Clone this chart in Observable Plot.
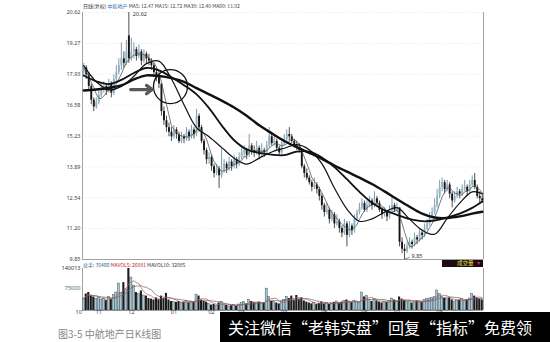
<!DOCTYPE html>
<html><head><meta charset="utf-8">
<script src="https://cdn.jsdelivr.net/npm/d3@7"></script>
<script src="https://cdn.jsdelivr.net/npm/@observablehq/plot@0.6"></script>
<style>
body{margin:0;background:#fff;}
#wrap{position:relative;width:550px;height:342px;overflow:hidden;background:#fff;font-family:"Noto Sans CJK SC","Noto Sans",sans-serif;}
#wrap svg{position:absolute;left:0;}
.t{position:absolute;white-space:nowrap;font-size:5px;line-height:1;color:#333;}
</style></head><body><div id="wrap"></div>
<script>
// ---- daily bars ----
const open=[18.0,18.2,17.9,17.4,16.8,16.5,16.7,17.0,17.3,17.4,
17.2,17.5,17.1,17.7,18.0,18.3,18.6,18.4,19.6,18.6,
18.9,19.0,18.7,18.9,18.5,18.8,18.6,18.5,18.3,18.0,
17.8,17.5,16.3,15.9,15.6,15.4,15.2,15.5,15.3,15.0,
15.2,15.1,15.4,15.2,15.5,15.3,16.1,15.6,15.0,14.6,
14.2,14.3,13.9,13.6,13.8,13.5,13.7,14.0,13.8,14.1,
13.9,14.2,14.0,14.3,14.5,14.6,14.4,14.8,14.6,14.5,
14.7,14.4,14.6,14.5,14.8,15.2,14.9,15.0,14.7,14.5,
14.9,15.1,15.3,15.2,15.0,14.8,14.7,14.6,13.9,13.6,
13.4,13.2,13.0,13.1,12.9,12.6,12.2,11.9,12.0,11.6,
11.8,11.4,11.5,11.2,11.0,11.4,10.9,11.3,11.1,11.6,
11.9,12.1,12.3,12.0,12.2,12.4,12.2,12.5,12.3,12.0,
11.8,11.9,11.7,12.0,12.2,12.0,12.1,10.6,10.3,10.2,
10.4,10.6,10.5,10.8,10.7,11.0,10.9,11.2,11.4,11.7,
11.9,12.2,12.6,13.0,13.2,12.9,13.1,12.7,12.4,12.6,
12.8,12.7,12.9,13.0,12.8,13.1,13.3,13.0,12.6,12.5];
const high=[18.4,18.3,18.0,17.5,16.9,16.9,17.2,17.5,17.6,17.5,
17.7,17.6,17.9,18.3,18.6,19.3,18.9,19.4,20.62,19.5,
19.3,19.1,19.2,19.0,19.0,18.9,18.8,18.6,18.4,18.2,
17.9,17.5,16.5,16.1,15.8,15.6,15.7,15.6,15.4,15.4,
15.3,15.6,15.5,15.7,15.6,16.4,16.2,15.7,15.1,14.7,
14.5,14.4,14.0,14.0,13.9,14.7,14.2,14.1,14.3,14.2,
14.4,14.3,14.5,14.7,14.8,14.7,15.3,14.9,14.8,15.0,
14.8,14.9,14.7,15.0,15.6,15.3,15.2,15.1,14.8,15.0,
15.3,15.5,15.6,15.3,15.1,15.0,14.9,14.6,14.0,13.8,
13.5,13.3,13.4,13.2,13.0,12.7,12.3,12.3,12.1,12.0,
11.9,11.8,11.6,11.3,11.6,11.5,11.5,11.4,11.8,12.0,
12.3,12.5,12.4,12.4,12.6,12.5,12.8,12.6,12.4,12.1,
12.1,12.0,12.2,12.6,12.3,12.3,12.1,10.8,10.5,10.6,
10.8,10.7,11.0,10.9,11.2,11.1,11.4,11.6,11.9,12.1,
12.5,12.9,13.3,13.4,13.3,13.3,13.2,12.8,12.8,13.0,
12.9,13.1,13.3,13.1,13.3,13.5,13.6,13.1,12.8,12.7];
const low=[17.8,17.7,17.2,16.6,16.3,16.4,16.6,16.9,17.1,17.0,
17.1,16.9,17.0,17.6,17.9,18.1,18.2,18.3,18.4,18.5,
18.6,18.5,18.6,18.3,18.4,18.4,18.3,18.1,17.8,17.6,
17.3,16.1,15.7,15.4,15.2,15.0,15.1,15.1,14.9,14.9,
14.9,15.0,15.0,15.1,15.1,15.2,15.4,14.9,14.4,14.0,
14.0,13.7,13.4,13.5,12.95,13.4,13.6,13.6,13.7,13.7,
13.8,13.8,13.9,14.2,14.3,14.2,14.3,14.4,14.3,14.4,
14.2,14.3,14.3,14.4,14.7,14.8,14.8,14.6,14.4,14.4,
14.8,15.0,15.0,14.9,14.7,14.6,14.5,13.8,13.4,13.3,
13.1,12.8,12.9,12.7,12.4,12.0,11.7,11.8,11.4,11.5,
11.2,11.3,11.0,10.8,10.9,10.4,10.8,10.9,11.0,11.5,
11.8,12.0,11.9,11.9,12.1,12.0,12.1,12.2,11.9,11.6,
11.7,11.5,11.6,11.9,11.9,11.9,10.4,10.1,9.85,10.1,
10.3,10.3,10.4,10.5,10.6,10.7,10.8,11.1,11.3,11.6,
11.8,12.1,12.5,12.8,12.7,12.8,12.5,12.1,12.3,12.5,
12.5,12.6,12.8,12.6,12.7,13.0,12.9,12.5,12.3,12.3];
const close=[18.2,17.9,17.4,16.8,16.5,16.7,17.0,17.3,17.4,17.2,
17.5,17.1,17.7,18.0,18.3,18.6,18.4,18.9,18.6,18.9,
19.0,18.7,18.9,18.5,18.8,18.6,18.5,18.3,18.0,17.8,
17.5,16.3,15.9,15.6,15.4,15.2,15.5,15.3,15.0,15.2,
15.1,15.4,15.2,15.5,15.3,16.1,15.6,15.0,14.6,14.2,
14.3,13.9,13.6,13.8,13.5,13.7,14.0,13.8,14.1,13.9,
14.2,14.0,14.3,14.5,14.6,14.4,14.8,14.6,14.5,14.7,
14.4,14.6,14.5,14.8,15.2,14.9,15.0,14.7,14.5,14.9,
15.1,15.3,15.2,15.0,14.8,14.7,14.6,13.9,13.6,13.4,
13.2,13.0,13.1,12.9,12.6,12.2,11.9,12.0,11.6,11.8,
11.4,11.5,11.2,11.0,11.4,10.9,11.3,11.1,11.6,11.9,
12.1,12.3,12.0,12.2,12.4,12.2,12.5,12.3,12.0,11.8,
11.9,11.7,12.0,12.2,12.0,12.1,10.6,10.3,10.2,10.4,
10.6,10.5,10.8,10.7,11.0,10.9,11.2,11.4,11.7,11.9,
12.2,12.6,13.0,13.2,12.9,13.1,12.7,12.4,12.6,12.8,
12.7,12.9,13.0,12.8,13.1,13.3,13.0,12.6,12.5,12.4];
const volume=[40000,55000,60000,48000,45000,38000,42000,35000,40000,33000,
45000,38000,52000,60000,90000,58000,93000,70000,140013,110000,
83000,60000,55000,65000,50000,48000,40000,38000,35000,42000,
36000,48000,40000,57000,35000,30000,28000,27000,30000,25000,
28000,32000,26000,30000,28000,53000,48000,35000,30000,28000,
22000,18000,20000,15000,25000,28000,20000,17000,14000,16000,
18000,15000,20000,25000,28000,22000,35000,30000,26000,24000,
28000,22000,26000,73000,45000,30000,28000,25000,22000,30000,
35000,45000,40000,48000,35000,50000,38000,42000,32000,28000,
25000,22000,25000,20000,24000,28000,22000,26000,20000,24000,
27000,30000,25000,28000,32000,35000,30000,27000,33000,29000,
25000,60000,45000,48000,35000,30000,38000,32000,28000,25000,
30000,27000,32000,40000,35000,30000,45000,38000,33000,28000,
30000,25000,27000,32000,30000,28000,35000,38000,40000,42000,
45000,67000,55000,45000,40000,38000,42000,35000,30000,33000,
35000,38000,32000,36000,40000,55000,48000,42000,38000,35400];

// ---- moving averages (every 5th bar) ----
const maIdx=[0,5,10,15,20,25,30,35,40,45,50,55,60,65,70,75,80,85,90,95,100,105,110,115,120,125,130,135,140,145,150,155,159];
const ma15=[18.30,17.60,17.25,17.40,17.84,18.39,18.50,17.72,16.60,15.60,15.20,14.74,14.27,14.01,14.27,14.54,14.70,14.86,14.64,14.03,12.97,12.05,11.52,11.62,11.91,12.11,11.61,11.13,10.95,11.64,12.31,12.80,12.72];
const ma30=[17.87,17.62,17.50,17.68,17.98,18.20,18.10,17.80,17.45,17.05,16.45,15.70,15.05,14.65,14.50,14.42,14.40,14.55,14.55,14.30,13.88,13.35,12.80,12.32,12.00,11.80,11.62,11.52,11.55,11.68,11.85,12.10,12.38];
const ma60=[17.22,17.26,17.33,17.44,17.70,17.88,17.85,17.76,17.60,17.32,17.05,16.78,16.48,16.12,15.70,15.35,15.02,14.75,14.50,14.24,13.95,13.68,13.42,13.14,12.82,12.48,12.15,11.85,11.68,11.66,11.73,11.85,11.93];

// ---- axis labels ----
const priceTicks=[20.62,19.27,17.93,16.58,15.23,13.89,12.54,11.20,9.85];
const volTicks=[140013,75000];
const monthLabels=["10","11","12","01","02","03","04","05","06","07","08"];
const monthIdx=[-2,6,19,36,51,63,80,96,112,125,142];

// ---- annotations (in bar index / price units) ----
const circleNote=[{i:34.6,price:17.39}];
const arrowNote=[{i1:18.7,i2:27.4,price:17.26}];

const N=close.length;
const rows=d3.range(N).map(i=>({i,open:open[i],high:high[i],low:low[i],close:close[i],volume:volume[i],up:close[i]>=open[i]}));
const ups=rows.filter(d=>d.up), downs=rows.filter(d=>!d.up);
const maRows=maIdx.map((i,k)=>({i,ma15:ma15[k],ma30:ma30[k],ma60:ma60[k]}));
const peak=rows[d3.maxIndex(high)], trough=rows[d3.minIndex(low)];
const xDom=[-0.5,N-0.5];
const upC="#8fb2c4", dnC="#151515";
const font='"Noto Sans","DejaVu Sans",sans-serif';

const price=Plot.plot({
  width:550,height:262,marginLeft:82,marginRight:67,marginTop:12,marginBottom:3,
  x:{domain:xDom,axis:null},
  y:{domain:[9.85,20.62],axis:null},
  style:{background:"transparent",fontFamily:font,overflow:"visible"},
  marks:[
    Plot.ruleY(priceTicks.slice(0,-1),{stroke:"#d6d6d6",strokeDasharray:"1,2",strokeWidth:0.6}),
    Plot.ruleY([priceTicks[priceTicks.length-1]],{stroke:"#8a8a8a",strokeWidth:0.8}),
    Plot.ruleX([xDom[0]],{stroke:"#8a8a8a",strokeWidth:0.8}),
    Plot.ruleX([xDom[1]],{stroke:"#8a8a8a",strokeWidth:0.8}),
    Plot.text(priceTicks,{frameAnchor:"left",y:d=>d,text:d=>d.toFixed(2),dx:-2,textAnchor:"end",fontSize:5.5,fill:"#444"}),
    Plot.ruleX(ups,{x:"i",y1:"low",y2:"high",stroke:"#5f8293",strokeWidth:0.8}),
    Plot.ruleX(downs,{x:"i",y1:"low",y2:"high",stroke:"#222",strokeWidth:0.8}),
    Plot.ruleX(ups,{x:"i",y1:"open",y2:"close",stroke:upC,strokeWidth:1.9}),
    Plot.ruleX(downs,{x:"i",y1:"open",y2:"close",stroke:dnC,strokeWidth:1.9}),
    Plot.lineY(rows,Plot.windowY({k:5,anchor:"end"},{x:"i",y:"close",stroke:"#555",strokeWidth:0.8})),
    Plot.line(maRows,{x:"i",y:"ma15",curve:"catmull-rom",stroke:"#111",strokeWidth:1.2}),
    Plot.line(maRows,{x:"i",y:"ma30",curve:"catmull-rom",stroke:"#111",strokeWidth:1.8}),
    Plot.line(maRows,{x:"i",y:"ma60",curve:"catmull-rom",stroke:"#111",strokeWidth:2.4}),
    Plot.dot(circleNote,{x:"i",y:"price",r:17,stroke:"#111",strokeWidth:1.3,fill:"none"}),
    Plot.arrow(arrowNote,{x1:"i1",x2:"i2",y1:"price",y2:"price",stroke:"#5a5a5a",strokeWidth:3.2,headLength:7,headAngle:70}),
    Plot.text([peak],{x:"i",y:"high",text:d=>d.high.toFixed(2),dx:4,dy:2,textAnchor:"start",fontSize:5.5,fill:"#333"}),
    Plot.link([trough],{x1:"i",y1:"low",x2:d=>d.i+2,y2:d=>d.low+0.1,stroke:"#333",strokeWidth:0.6}),
    Plot.text([trough],{x:"i",y:"low",text:d=>d.low.toFixed(2),dx:7,dy:-3,textAnchor:"start",fontSize:5.5,fill:"#333"})
  ]
});
price.style.top="0px";

const vol=Plot.plot({
  width:550,height:80,marginLeft:82,marginRight:67,marginTop:6,marginBottom:32,
  x:{domain:xDom,axis:null},
  y:{domain:[0,140013],axis:null},
  style:{background:"transparent",fontFamily:font,overflow:"visible"},
  marks:[
    Plot.ruleX([xDom[0]],{stroke:"#8a8a8a",strokeWidth:0.8}),
    Plot.ruleX([xDom[1]],{stroke:"#8a8a8a",strokeWidth:0.8}),
    Plot.ruleY([0],{stroke:"#8a8a8a",strokeWidth:0.8}),
    Plot.text(volTicks,{frameAnchor:"left",y:d=>d,text:d=>String(d),dx:-2,textAnchor:"end",fontSize:5.5,fill:(d,k)=>k?"#3d6f84":"#333"}),
    Plot.rect(ups,{x1:d=>d.i-0.42,x2:d=>d.i+0.42,y1:()=>0,y2:"volume",fill:"#a6c6d5",stroke:"#2e3e48",strokeWidth:0.4}),
    Plot.rect(downs,{x1:d=>d.i-0.42,x2:d=>d.i+0.42,y1:()=>0,y2:"volume",fill:"#1c1c1c"}),
    Plot.lineY(rows,Plot.windowY({k:5,anchor:"end"},{x:"i",y:"volume",stroke:"#c25050",strokeWidth:0.7})),
    Plot.lineY(rows,Plot.windowY({k:10,anchor:"end"},{x:"i",y:"volume",stroke:"#666",strokeWidth:0.7})),
    Plot.text(monthIdx.map((i,k)=>({i,t:monthLabels[k]})),{x:"i",frameAnchor:"bottom",dy:3,text:"t",fontSize:5.5,fill:"#444"})
  ]
});
vol.style.top="262px";

const wrap=document.getElementById("wrap");
wrap.appendChild(price);
wrap.appendChild(vol);
wrap.insertAdjacentHTML("beforeend",`
<div class="t" style="left:83px;top:2.5px"><span>日线(复权)</span> <span style="color:#2f6db5">中航地产</span> <span style="color:#444">MA5: 12.47 MA15: 12.72 MA30: 12.40 MA60: 11.92</span></div>
<div class="t" style="left:83px;top:262px"><span style="color:#2f5f86">总手: 35400</span> <span style="color:#c02030">MAVOL5: 26881</span> <span style="color:#333">MAVOL10: 32085</span></div>
<div style="position:absolute;left:442px;top:259.5px;width:41px;height:7.5px;background:#1d0a12;"></div>
<div class="t" style="left:457px;top:260.5px;color:#e6e640;font-size:5.5px">成交量</div>
<div class="t" style="left:477px;top:260.5px;color:#d0306a;font-size:5.5px">▾</div>
<div class="t" style="left:58px;top:329px;font-size:10px;color:#888">图3-5 中航地产日K线图</div>
<div style="position:absolute;left:220px;top:312px;width:330px;height:30px;background:#000;color:#fff;font-size:16px;line-height:30px;padding-left:8px;box-sizing:border-box;white-space:nowrap;font-family:'Noto Sans CJK SC',sans-serif;">关注微信“老韩实盘”回复“指标”免费领</div>
`);
</script>
</body></html>
